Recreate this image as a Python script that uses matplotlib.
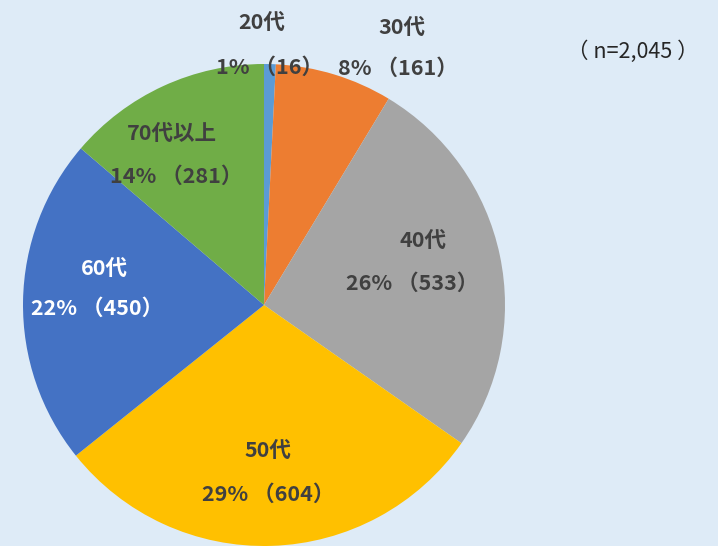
import matplotlib.pyplot as plt

plt.rcParams['font.family'] = ['Noto Sans CJK JP', 'DejaVu Sans']

ages = ['20代', '30代', '40代', '50代', '60代', '70代以上']
counts = [16, 161, 533, 604, 450, 281]
percents = ['1%', '8%', '26%', '29%', '22%', '14%']
colors = ['#5B9BD5', '#ED7D31', '#A5A5A5', '#FFC000', '#4472C4', '#70AD47']
n_total = 2045

# label positions in pixels (x, y from top): name line, value line
name_pos = [(262, 22), (402, 27), (423, 240), (268, 450), (104, 268), (172, 133)]
value_pos = [(270, 67), (398, 68), (412, 283), (268, 494), (97, 308), (176, 176)]
text_colors = ['#404040', '#404040', '#404040', '#404040', 'white', '#404040']

W, H = 718, 546
bg = '#DEEBF7'
fig = plt.figure(figsize=(W / 100, H / 100), dpi=100, facecolor=bg)
ax = fig.add_axes([0, 0, 1, 1])
ax.set_facecolor(bg)

ax.pie(counts, colors=colors, startangle=90, counterclock=False,
       center=(264, H - 305), radius=241,
       wedgeprops=dict(linewidth=0))

ax.set_xlim(0, W)
ax.set_ylim(0, H)
ax.set_aspect('equal')
ax.axis('off')

for i in range(len(ages)):
    nx, ny = name_pos[i]
    vx, vy = value_pos[i]
    ax.text(nx, H - ny, ages[i], ha='center', va='center', fontsize=15.5,
            fontweight='bold', color=text_colors[i])
    ax.text(vx, H - vy, f'{percents[i]} （{counts[i]}）', ha='center', va='center',
            fontsize=15.5, fontweight='bold', color=text_colors[i])

ax.text(633, H - 52, f'（ n={n_total:,} ）', ha='center', va='center', fontsize=15.5,
        color='#262626')

fig.savefig('out.png', dpi=100, facecolor=bg)
